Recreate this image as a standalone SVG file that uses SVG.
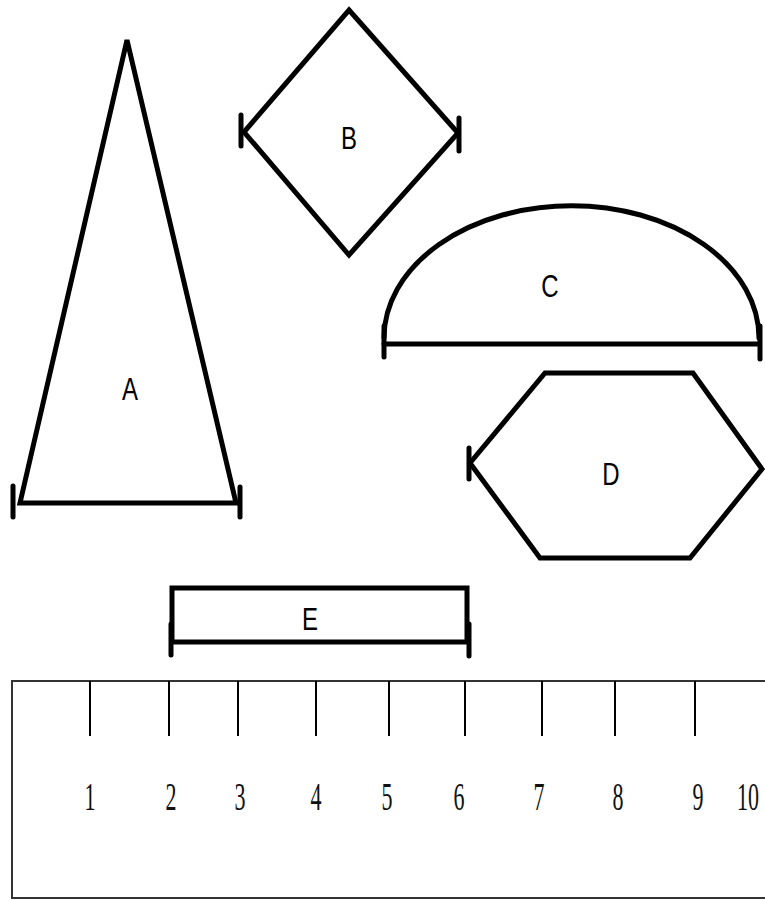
<svg xmlns="http://www.w3.org/2000/svg" width="765" height="901" viewBox="0 0 765 901">
<style>
.shape{fill:none;stroke:#000;stroke-width:5;stroke-linejoin:miter;stroke-linecap:round}
.tick{stroke:#000;stroke-width:5;stroke-linecap:round}
.lbl{font-family:"Liberation Sans",Arial,sans-serif;font-size:32px;fill:#000;text-anchor:middle}
.rtick{stroke:#000;stroke-width:2}
.num{font-family:"Liberation Serif","Times New Roman",serif;font-size:40px;fill:#111;text-anchor:middle}
</style>
<rect width="765" height="901" fill="#fff"/>
<g id="A">
<polygon class="shape" points="127,40 20,503 236,503"/>
<line class="tick" x1="13" y1="486" x2="13" y2="517"/>
<line class="tick" x1="240" y1="487" x2="240" y2="517"/>
<text class="lbl" transform="translate(130,400) scale(0.75,1)">A</text>
</g>
<g id="B">
<polygon class="shape" points="349,10 458,133 349,255 244,132"/>
<line class="tick" x1="241" y1="115" x2="241" y2="146"/>
<line class="tick" x1="459" y1="118" x2="459" y2="151"/>
<text class="lbl" transform="translate(349,149) scale(0.75,1)">B</text>
</g>
<g id="C">
<path class="shape" d="M384,338 A187,132 0 0 1 759,338"/>
<line class="shape" x1="384" y1="344" x2="759" y2="344"/>
<line class="tick" x1="384" y1="326" x2="384" y2="357"/>
<line class="tick" x1="760" y1="326" x2="760" y2="359"/>
<text class="lbl" transform="translate(550,297) scale(0.75,1)">C</text>
</g>
<g id="D">
<polygon class="shape" points="545,373 693,373 762,469 690,558 540,558 470,463"/>
<line class="tick" x1="469" y1="448" x2="469" y2="479"/>
<text class="lbl" transform="translate(611,485) scale(0.75,1)">D</text>
</g>
<g id="E">
<rect class="shape" x="172" y="588" width="295" height="54"/>
<line class="tick" x1="171" y1="624" x2="171" y2="655"/>
<line class="tick" x1="469" y1="624" x2="469" y2="656"/>
<text class="lbl" transform="translate(310,630) scale(0.75,1)">E</text>
</g>
<g id="ruler">
<rect x="12" y="681" width="770" height="217" fill="none" stroke="#333" stroke-width="2"/>
<line class="rtick" x1="90" y1="681" x2="90" y2="736"/>
<line class="rtick" x1="169" y1="681" x2="169" y2="736"/>
<line class="rtick" x1="238" y1="681" x2="238" y2="736"/>
<line class="rtick" x1="316" y1="681" x2="316" y2="736"/>
<line class="rtick" x1="389" y1="681" x2="389" y2="736"/>
<line class="rtick" x1="465" y1="681" x2="465" y2="736"/>
<line class="rtick" x1="542" y1="681" x2="542" y2="736"/>
<line class="rtick" x1="615" y1="681" x2="615" y2="736"/>
<line class="rtick" x1="695" y1="681" x2="695" y2="736"/>
<text class="num" transform="translate(90,810) scale(0.55,1)">1</text>
<text class="num" transform="translate(171,810) scale(0.55,1)">2</text>
<text class="num" transform="translate(240,810) scale(0.55,1)">3</text>
<text class="num" transform="translate(316,810) scale(0.55,1)">4</text>
<text class="num" transform="translate(387,810) scale(0.55,1)">5</text>
<text class="num" transform="translate(459,810) scale(0.55,1)">6</text>
<text class="num" transform="translate(539,810) scale(0.55,1)">7</text>
<text class="num" transform="translate(618,810) scale(0.55,1)">8</text>
<text class="num" transform="translate(698,810) scale(0.55,1)">9</text>
<text class="num" transform="translate(748,810) scale(0.55,1)">10</text>
</g>
</svg>
